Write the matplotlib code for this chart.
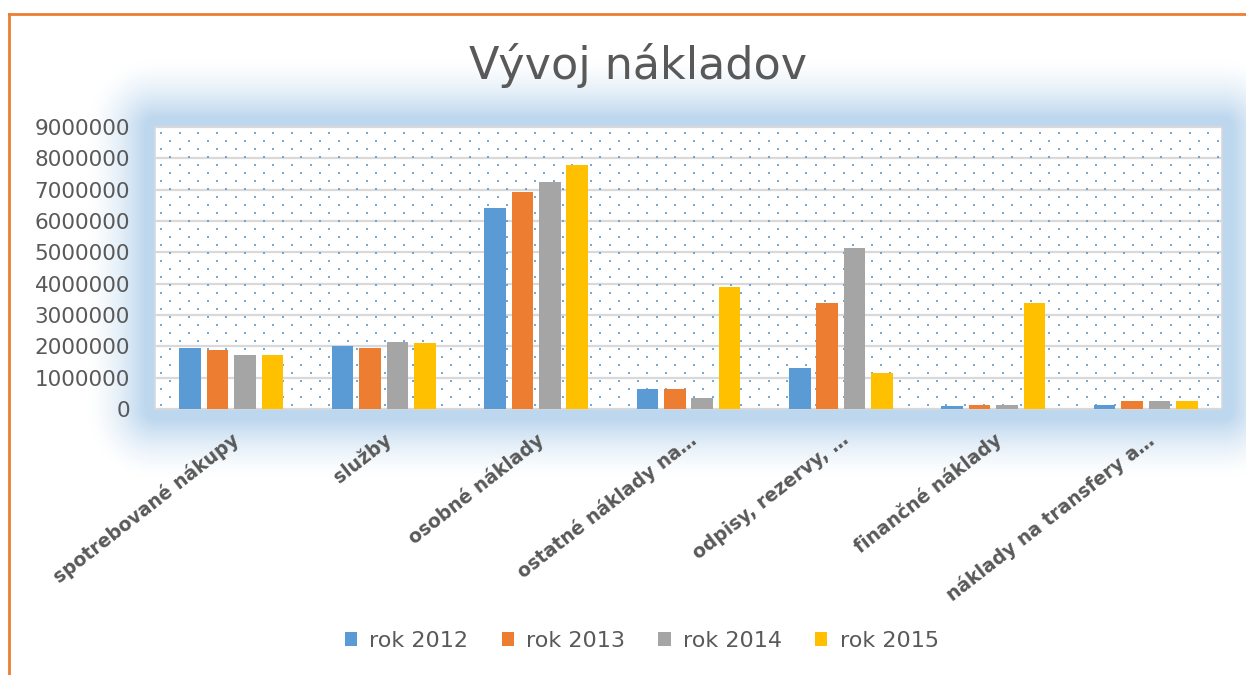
import matplotlib.pyplot as plt
import numpy as np
from matplotlib.lines import Line2D
from matplotlib.patches import Patch
from matplotlib.ticker import FuncFormatter

plt.rcParams["font.family"] = ["DejaVu Sans"]

# data
CATEGORIES = [
    "spotrebované nákupy",
    "služby",
    "osobné náklady",
    "ostatné náklady na…",
    "odpisy, rezervy, …",
    "finančné náklady",
    "náklady na transfery a…",
]
SERIES = ["rok 2012", "rok 2013", "rok 2014", "rok 2015"]
ROK_2012 = [1940000, 2010000, 6430000, 630000, 1320000, 80000, 130000]
ROK_2013 = [1890000, 1940000, 6930000, 630000, 3370000, 130000, 260000]
ROK_2014 = [1720000, 2140000, 7250000, 340000, 5130000, 130000, 260000]
ROK_2015 = [1720000, 2100000, 7780000, 3890000, 1150000, 3370000, 260000]
Y_TICKS = [0, 1000000, 2000000, 3000000, 4000000, 5000000,
           6000000, 7000000, 8000000, 9000000]

COLORS = ["#5b9bd5", "#ed7d31", "#a5a5a5", "#ffc000"]
TEXT = "#595959"

W, H = 1246, 675
fig = plt.figure(figsize=(W / 100, H / 100), dpi=100)

# plot area in pixels
x0, x1, y0, y1 = 155, 1222, 127, 409

# soft blue glow behind the plot area
yy, xx = np.mgrid[0:H, 0:W]
dx = np.maximum(np.maximum(x0 - xx, xx - x1), 0)
dy = np.maximum(np.maximum(y0 - yy, yy - y1), 0)
d = np.hypot(dx, dy)
t = np.clip((d - 10) / 60, 0, 1)
alpha = (1 - t) ** 1.6
glow = np.zeros((H, W, 4))
glow[..., 0] = 0xBD / 255
glow[..., 1] = 0xD7 / 255
glow[..., 2] = 0xEE / 255
glow[..., 3] = alpha
fig.figimage(glow, 0, 0, origin="upper", zorder=0)

# orange frame lines (top and left)
fig.add_artist(Line2D([9 / W, 1], [1 - 14 / H, 1 - 14 / H], color="#ed7d31", lw=2, transform=fig.transFigure))
fig.add_artist(Line2D([9 / W, 9 / W], [0, 1 - 14 / H], color="#ed7d31", lw=2, transform=fig.transFigure))

ax = fig.add_axes([x0 / W, 1 - y1 / H, (x1 - x0) / W, (y1 - y0) / H])
ax.set_facecolor("white")
ax.set_zorder(2)

# dotted fill pattern of the plot area
pw, ph = x1 - x0, y1 - y0
pts_x, pts_y = [], []
row = 0
for py in np.arange(6, ph, 8.0):
    off = 0 if row % 2 == 0 else 9.35
    for px in np.arange(6 + off, pw, 18.7):
        pts_x.append(px / pw)
        pts_y.append(1 - py / ph)
    row += 1
ax.scatter(pts_x, pts_y, s=3.6, marker="s", color="#5b9bd5", alpha=0.85,
           linewidths=0, transform=ax.transAxes, zorder=1)

x = np.arange(len(CATEGORIES))
width = 0.142
for i, (vals, col, name) in enumerate(zip([ROK_2012, ROK_2013, ROK_2014, ROK_2015], COLORS, SERIES)):
    ax.bar(x + (i - 1.5) * 0.18, vals, width, color=col, label=name, zorder=3)

ax.set_xlim(-0.5, len(CATEGORIES) - 0.5)
ax.set_ylim(0, 9000000)
ax.set_yticks(Y_TICKS)
ax.yaxis.set_major_formatter(FuncFormatter(lambda v, p: f"{int(v)}"))
ax.grid(axis="y", color="#d9d9d9", linewidth=1.6, zorder=2)
ax.set_axisbelow(True)
for s in ax.spines.values():
    s.set_color("#d9d9d9")
    s.set_linewidth(1.2)

ax.tick_params(axis="y", length=0, pad=18, labelsize=15.5, labelcolor=TEXT)
ax.tick_params(axis="x", length=0, pad=15)
ax.set_xticks(x)
ax.set_xticklabels(CATEGORIES, rotation=38, ha="right", rotation_mode="anchor",
                   fontsize=13.5, fontweight="bold", color=TEXT)

fig.text(0.512, 1 - 65 / H, "Vývoj nákladov", ha="center", va="center",
         fontsize=32, color=TEXT)

handles = [Patch(facecolor=c, edgecolor="none") for c in COLORS]
fig.legend(handles, SERIES, loc="center", bbox_to_anchor=(0.515, 1 - 641 / H),
           ncol=4, frameon=False, fontsize=16, labelcolor=TEXT,
           handlelength=0.55, handleheight=0.55, handletextpad=0.55,
           columnspacing=1.5)

fig.savefig("out.png", dpi=100)
